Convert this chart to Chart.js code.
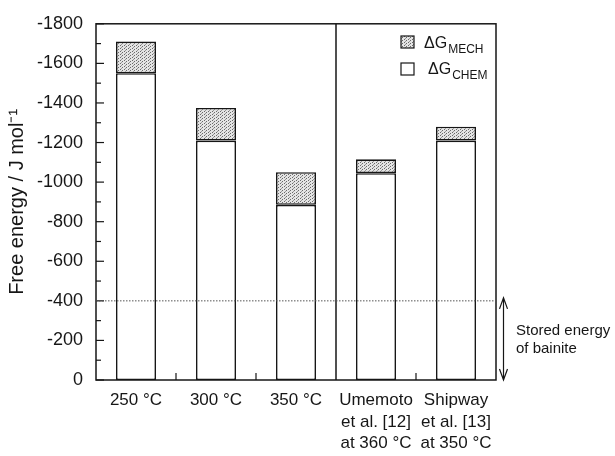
<!DOCTYPE html>
<html>
<head>
<meta charset="utf-8">
<script src="https://cdn.jsdelivr.net/npm/chart.js@4"></script>
<style>
  body { margin: 0; background: #fff; }
  canvas { display: block; }
</style>
</head>
<body>
<canvas id="chart" width="615" height="456"></canvas>
<script>
// values (J/mol, negative = driving force)
const categories = [
    '250 °C',
    '300 °C',
    '350 °C',
    ['Umemoto', 'et al. [12]', 'at 360 °C'],
    ['Shipway', 'et al. [13]', 'at 350 °C']
];
const chemValues = [-1550, -1210, -885, -1045, -1210];
const mechValues = [-160, -165, -165, -70, -70];
const storedEnergy = -400;
const yMin = -1800, yMax = 0, yStep = 200;
const legendNames = [['ΔG', 'MECH'], ['ΔG', 'CHEM']];
const noteLines = ['Stored energy', 'of bainite'];

const ink = '#161616';
const font = '"Liberation Sans", Arial, sans-serif';

// stipple fill for the mechanical part
function makeStipple() {
    const c = document.createElement('canvas');
    c.width = 4; c.height = 3;
    const g = c.getContext('2d');
    g.fillStyle = '#e4e4e4';
    g.fillRect(0, 0, 4, 3);
    g.fillStyle = '#6a6a6a';
    g.fillRect(0, 0, 1, 1);
    g.fillRect(2, 1, 1, 1);
    g.fillStyle = '#9a9a9a';
    g.fillRect(1, 2, 1, 1);
    return g.createPattern(c, 'repeat');
}
const stipple = makeStipple();

const decor = {
    id: 'decor',
    afterDatasetsDraw(chart) {
        const { ctx, chartArea: a, scales: { x, y } } = chart;
        ctx.save();
        ctx.strokeStyle = ink;
        ctx.lineWidth = 1.5;

        // frame
        ctx.strokeRect(a.left, a.top, a.right - a.left, a.bottom - a.top);

        // separator between own results and literature
        const sep = (x.getPixelForValue(2) + x.getPixelForValue(3)) / 2;
        ctx.beginPath();
        ctx.moveTo(sep, a.top);
        ctx.lineTo(sep, a.bottom);
        ctx.stroke();

        // inward y ticks, minor every 100
        ctx.lineWidth = 1.2;
        for (let v = yMax; v >= yMin; v -= yStep / 2) {
            const py = y.getPixelForValue(v);
            const len = v % yStep === 0 ? 8 : 5;
            ctx.beginPath();
            ctx.moveTo(a.left, py);
            ctx.lineTo(a.left + len, py);
            ctx.stroke();
        }
        // inward x ticks at category boundaries
        [0, 1, 3].forEach(i => {
            const px = (x.getPixelForValue(i) + x.getPixelForValue(i + 1)) / 2;
            ctx.beginPath();
            ctx.moveTo(px, a.bottom);
            ctx.lineTo(px, a.bottom - 7);
            ctx.stroke();
        });

        // dotted stored-energy level
        const ys = y.getPixelForValue(storedEnergy);
        ctx.save();
        ctx.strokeStyle = '#555';
        ctx.lineWidth = 1;
        ctx.setLineDash([1.5, 1.5]);
        ctx.beginPath();
        ctx.moveTo(a.left, ys);
        ctx.lineTo(a.right, ys);
        ctx.stroke();
        ctx.restore();

        // double arrow outside the frame
        const ax = a.right + 7.5, y0 = y.getPixelForValue(0);
        ctx.lineWidth = 1.2;
        ctx.beginPath();
        ctx.moveTo(ax, ys - 3);
        ctx.lineTo(ax, y0);
        ctx.moveTo(ax - 4, ys + 8);
        ctx.lineTo(ax, ys - 3);
        ctx.lineTo(ax + 4, ys + 8);
        ctx.moveTo(ax - 4, y0 - 11);
        ctx.lineTo(ax, y0);
        ctx.lineTo(ax + 4, y0 - 11);
        ctx.stroke();

        ctx.fillStyle = ink;
        ctx.font = '15px ' + font;
        ctx.textAlign = 'left';
        ctx.textBaseline = 'middle';
        noteLines.forEach((t, i) => ctx.fillText(t, a.right + 20, 331 + i * 18));

        // legend with subscripts
        const fills = [stipple, '#fff'];
        const rows = [{ box: 36, base: 48, tx: 424 }, { box: 63, base: 74, tx: 428 }];
        ctx.textBaseline = 'alphabetic';
        rows.forEach((r, i) => {
            ctx.fillStyle = fills[i];
            ctx.fillRect(401, r.box, 13, 12);
            ctx.lineWidth = 1.2;
            ctx.strokeRect(401, r.box, 13, 12);
            ctx.fillStyle = ink;
            ctx.font = '16px ' + font;
            ctx.fillText(legendNames[i][0], r.tx, r.base);
            const w = ctx.measureText(legendNames[i][0]).width;
            ctx.font = '12px ' + font;
            ctx.fillText(legendNames[i][1], r.tx + w + 1, r.base + 5);
        });
        ctx.restore();
    }
};

new Chart(document.getElementById('chart'), {
    type: 'bar',
    data: {
        labels: categories,
        datasets: [
            { label: 'ΔG CHEM', data: chemValues, backgroundColor: '#fff' },
            { label: 'ΔG MECH', data: mechValues, backgroundColor: stipple }
        ]
    },
    options: {
        responsive: false,
        animation: false,
        layout: { padding: { left: 0, right: 119, top: 13, bottom: 0 } },
        datasets: {
            bar: {
                categoryPercentage: 1,
                barPercentage: 0.5,
                borderColor: ink,
                borderWidth: 1.6,
                borderSkipped: false
            }
        },
        plugins: { legend: { display: false }, tooltip: { enabled: false } },
        scales: {
            x: {
                stacked: true,
                grid: { display: false, drawTicks: false },
                border: { display: false },
                ticks: { color: ink, padding: 10, font: { family: font, size: 17, lineHeight: 1.25 } },
                afterFit: s => { s.height = 76; }
            },
            y: {
                stacked: true,
                min: yMin,
                max: yMax,
                reverse: true,
                grid: { display: false, drawTicks: false },
                border: { display: false },
                ticks: {
                    stepSize: yStep,
                    color: ink,
                    padding: 13,
                    font: { family: font, size: 18 },
                    callback: v => String(v)
                },
                title: {
                    display: true,
                    text: 'Free energy / J mol⁻¹',
                    color: ink,
                    font: { family: font, size: 20 },
                    padding: { top: 5, bottom: 0 }
                },
                afterFit: s => { s.width = 96; }
            }
        }
    },
    plugins: [decor]
});
</script>
</body>
</html>
